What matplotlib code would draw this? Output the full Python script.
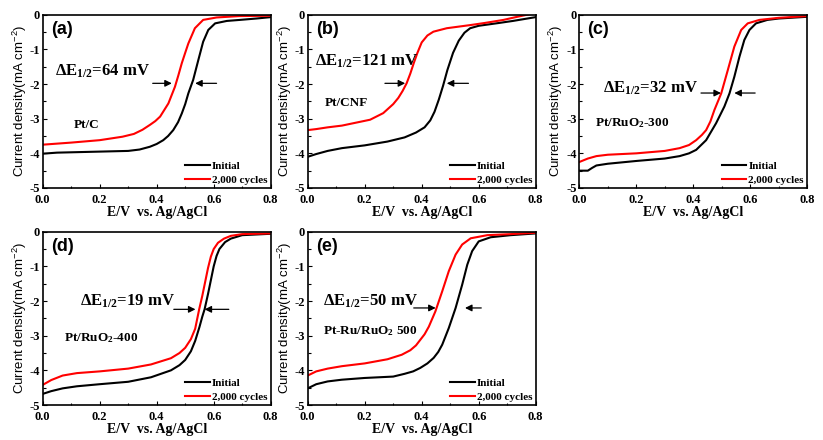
import matplotlib
matplotlib.use('Agg')
import matplotlib.pyplot as plt
from matplotlib.ticker import MultipleLocator

plt.rcParams['font.family'] = 'Liberation Serif'
plt.rcParams['font.weight'] = 'bold'

# ---- data (E in V vs Ag/AgCl, j in mA cm-2) ----
# (a) Pt/C
a_init_E = [0.0, 0.05, 0.1, 0.2, 0.3, 0.34, 0.376, 0.4, 0.423, 0.44, 0.458, 0.475, 0.488, 0.5,
            0.511, 0.528, 0.546, 0.563, 0.581, 0.605, 0.646, 0.692, 0.75, 0.8]
a_init_j = [-4.01, -3.98, -3.97, -3.95, -3.93, -3.89, -3.81, -3.73, -3.62, -3.5, -3.33, -3.1,
            -2.85, -2.58, -2.27, -1.88, -1.31, -0.78, -0.44, -0.25, -0.18, -0.15, -0.11, -0.07]
a_cyc_E = [0.0, 0.05, 0.1, 0.2, 0.28, 0.32, 0.35, 0.376, 0.395, 0.412, 0.441, 0.464, 0.476,
           0.488, 0.5, 0.511, 0.534, 0.563, 0.61, 0.69, 0.8]
a_cyc_j = [-3.75, -3.72, -3.69, -3.62, -3.52, -3.44, -3.32, -3.18, -3.07, -2.94, -2.56, -2.08,
           -1.75, -1.4, -1.1, -0.83, -0.39, -0.15, -0.08, -0.04, -0.03]

# (b) Pt/CNF
b_init_E = [0.0, 0.03, 0.07, 0.12, 0.2, 0.28, 0.34, 0.38, 0.41, 0.43, 0.445, 0.46, 0.475, 0.49,
            0.51, 0.53, 0.55, 0.57, 0.6, 0.67, 0.72, 0.8]
b_init_j = [-4.1, -4.02, -3.93, -3.85, -3.77, -3.66, -3.54, -3.4, -3.25, -3.05, -2.8, -2.45,
            -2.05, -1.6, -1.1, -0.75, -0.52, -0.39, -0.32, -0.24, -0.18, -0.07]
b_cyc_E = [0.0, 0.03, 0.07, 0.12, 0.219, 0.265, 0.3, 0.318, 0.333, 0.347, 0.36, 0.372, 0.385,
           0.4, 0.42, 0.441, 0.488, 0.57, 0.62, 0.687, 0.73, 0.77, 0.8]
b_cyc_j = [-3.33, -3.3, -3.25, -3.2, -3.03, -2.84, -2.58, -2.4, -2.2, -1.98, -1.7, -1.4, -1.1,
           -0.8, -0.6, -0.49, -0.39, -0.3, -0.24, -0.15, -0.07, 0.0, 0.04]

# (c) Pt/RuO2-300
c_init_E = [0.0, 0.03, 0.045, 0.06, 0.1, 0.2, 0.3, 0.352, 0.385, 0.41, 0.445, 0.48, 0.509, 0.527,
            0.544, 0.562, 0.579, 0.597, 0.62, 0.66, 0.7, 0.8]
c_init_j = [-4.5, -4.5, -4.42, -4.35, -4.3, -4.22, -4.15, -4.08, -4.0, -3.9, -3.62, -3.13, -2.65,
            -2.27, -1.79, -1.21, -0.73, -0.44, -0.25, -0.15, -0.11, -0.06]
c_cyc_E = [0.0, 0.03, 0.06, 0.1, 0.2, 0.3, 0.352, 0.385, 0.41, 0.43, 0.445, 0.46, 0.474, 0.498,
           0.521, 0.544, 0.568, 0.591, 0.632, 0.7, 0.8]
c_cyc_j = [-4.25, -4.15, -4.08, -4.04, -4.0, -3.93, -3.85, -3.76, -3.62, -3.47, -3.33, -3.08,
           -2.75, -2.27, -1.6, -0.92, -0.44, -0.25, -0.15, -0.09, -0.04]

# (d) Pt/RuO2-400
d_init_E = [0.0, 0.03, 0.07, 0.12, 0.2, 0.3, 0.38, 0.45, 0.48, 0.5, 0.52, 0.535, 0.55, 0.56,
            0.568, 0.58, 0.59, 0.6, 0.61, 0.62, 0.64, 0.66, 0.7, 0.8]
d_init_j = [-4.68, -4.6, -4.52, -4.46, -4.4, -4.33, -4.2, -4.0, -3.85, -3.7, -3.45, -3.15,
            -2.75, -2.45, -2.24, -1.8, -1.4, -1.0, -0.7, -0.5, -0.3, -0.2, -0.1, -0.06]
d_cyc_E = [0.0, 0.03, 0.07, 0.12, 0.2, 0.3, 0.38, 0.45, 0.48, 0.5, 0.52, 0.535, 0.549, 0.56,
           0.57, 0.58, 0.59, 0.6, 0.615, 0.636, 0.66, 0.7, 0.8]
d_cyc_j = [-4.42, -4.28, -4.15, -4.08, -4.03, -3.95, -3.83, -3.65, -3.5, -3.35, -3.1, -2.8,
           -2.24, -1.85, -1.45, -1.05, -0.72, -0.5, -0.32, -0.2, -0.12, -0.07, -0.05]

# (e) Pt-Ru/RuO2 500
e_init_E = [0.0, 0.03, 0.07, 0.12, 0.2, 0.3, 0.34, 0.37, 0.395, 0.42, 0.442, 0.458, 0.472, 0.495,
            0.519, 0.542, 0.56, 0.577, 0.6, 0.642, 0.712, 0.8]
e_init_j = [-4.52, -4.4, -4.32, -4.27, -4.22, -4.18, -4.1, -4.03, -3.93, -3.8, -3.64, -3.47,
            -3.26, -2.78, -2.2, -1.53, -0.95, -0.56, -0.28, -0.16, -0.1, -0.05]
e_cyc_E = [0.0, 0.03, 0.07, 0.12, 0.2, 0.28, 0.33, 0.36, 0.38, 0.395, 0.41, 0.425, 0.448, 0.472,
           0.495, 0.519, 0.542, 0.572, 0.63, 0.712, 0.8]
e_cyc_j = [-4.15, -4.03, -3.95, -3.88, -3.8, -3.68, -3.55, -3.42, -3.28, -3.12, -2.96, -2.74,
           -2.3, -1.72, -1.14, -0.66, -0.37, -0.19, -0.1, -0.07, -0.03]

panel_tags = ['(a)', '(b)', '(c)', '(d)', '(e)']
sample_names = ['Pt/C', 'Pt/CNF', 'Pt/RuO$\\mathregular{_2}$-300',
                'Pt/RuO$\\mathregular{_2}$-400', 'Pt-Ru/RuO$\\mathregular{_2}$ 500']
delta_mV = [64, 121, 32, 19, 50]

# text / arrow positions (data coords)
delta_xy = [(0.043, -1.64), (0.026, -1.35), (0.084, -2.12), (0.131, -2.02), (0.055, -2.02)]
name_xy = [(0.11, -3.18), (0.06, -2.55), (0.055, -3.13), (0.073, -3.08), (0.055, -2.88)]
arrow_y = [-1.98, -1.98, -2.26, -2.24, -2.2]
arrow_left = [(0.386, 0.453), (0.271, 0.342), (0.427, 0.497), (0.46, 0.536), (0.372, 0.449)]
arrow_right = [(0.61, 0.535), (0.564, 0.488), (0.617, 0.544), (0.653, 0.568), (0.609, 0.552)]

curves = [
    (a_init_E, a_init_j, a_cyc_E, a_cyc_j),
    (b_init_E, b_init_j, b_cyc_E, b_cyc_j),
    (c_init_E, c_init_j, c_cyc_E, c_cyc_j),
    (d_init_E, d_init_j, d_cyc_E, d_cyc_j),
    (e_init_E, e_init_j, e_cyc_E, e_cyc_j),
]

fig = plt.figure(figsize=(8.23, 4.40), dpi=100)
W, H = 823.0, 440.0
ax_w, ax_h = 228.0, 173.3
ax_pos = [(42.7, 14.7), (307.7, 14.7), (579.3, 14.7), (42.7, 231.7), (307.7, 231.7)]

for i in range(5):
    x0, y0 = ax_pos[i]
    ax = fig.add_axes([x0 / W, 1 - (y0 + ax_h) / H, ax_w / W, ax_h / H])
    ei, ji, ec, jc = curves[i]
    ax.plot(ei, ji, color='black', lw=1.5, label='Initial')
    ax.plot(ec, jc, color='red', lw=1.5, label='2,000 cycles')
    ax.set_xlim(0, 0.8)
    ax.set_ylim(-5, 0)
    ax.xaxis.set_minor_locator(MultipleLocator(0.1))
    ax.yaxis.set_minor_locator(MultipleLocator(0.5))
    ax.set_xticks([0.0, 0.2, 0.4, 0.6, 0.8])
    ax.set_xticklabels(['0.0', '0.2', '0.4', '0.6', '0.8'])
    ax.set_yticks([0, -1, -2, -3, -4, -5])
    ax.set_yticklabels(['0', '-1', '-2', '-3', '-4', '-5'])
    ax.tick_params(which='both', direction='in', labelsize=9, width=0.8)
    ax.tick_params(axis='x', pad=4.5)
    ax.tick_params(axis='y', pad=2)
    ax.tick_params(which='major', length=3)
    ax.tick_params(which='minor', length=1.8)
    for s in ax.spines.values():
        s.set_linewidth(1.2)

    ax.set_xlabel('E/V  vs. Ag/AgCl', fontsize=10, fontweight='bold', labelpad=0)
    ax.set_ylabel('Current density(mA cm$\\mathregular{^{-2}}$)', fontsize=9.5,
                  family='Liberation Sans', fontweight='normal', labelpad=0.5)

    ax.text(0.028, -0.42, panel_tags[i], fontsize=13, family='Liberation Sans',
            fontweight='bold', va='center', ha='left')
    dx, dy = delta_xy[i]
    ax.text(dx, dy, '$\\mathregular{\\Delta E_{1/2}}$=%d mV' % delta_mV[i], fontsize=12,
            fontweight='bold', va='center', ha='left')
    nx, ny = name_xy[i]
    ax.text(nx, ny, sample_names[i], fontsize=9.5, fontweight='bold', va='center', ha='left')

    ay = arrow_y[i]
    for (xs, xe) in (arrow_left[i], arrow_right[i]):
        ax.annotate('', xy=(xe, ay), xytext=(xs, ay),
                    arrowprops=dict(arrowstyle='-|>', color='black', lw=0.9,
                                    mutation_scale=10, shrinkA=0, shrinkB=0))

    ax.legend(loc='lower right', frameon=False, handlelength=2.2,
              handletextpad=0.2, labelspacing=0.35, borderaxespad=0, borderpad=0.3,
              prop={'weight': 'bold', 'size': 8})

fig.savefig('out.png', dpi=100)
